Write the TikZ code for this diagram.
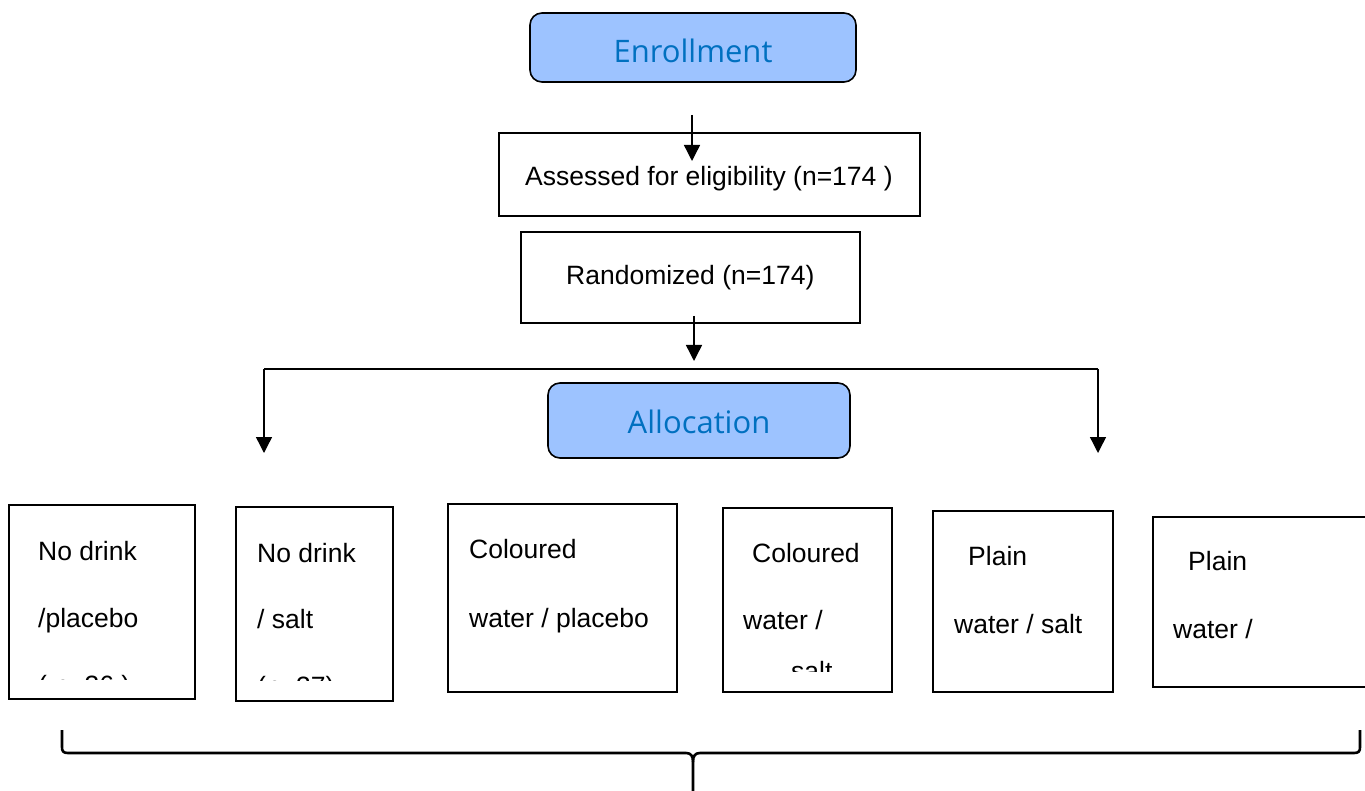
\documentclass[tikz,border=0pt]{standalone}
\usepackage{fontspec}
\setmainfont{Liberation Sans}
\newfontfamily\headfont{Open Sans}
\usetikzlibrary{arrows.meta}
\definecolor{hfill}{HTML}{9DC3FF}
\definecolor{htext}{HTML}{0070C0}
\tikzset{
  box/.style={draw=black, line width=1.6pt, inner sep=0pt, fill=white},
  headbox/.style={draw=black, line width=1.6pt, fill=hfill, rounded corners=12pt, inner sep=0pt},
  headtxt/.style={font=\headfont\fontsize{31}{36}\selectfont, text=htext, inner sep=0pt, anchor=base},
  txt/.style={font=\fontsize{26.5}{30}\selectfont, inner sep=0pt, anchor=base west},
  arr/.style={line width=1.4pt, -{Triangle[width=16pt,length=16pt]}},
  ln/.style={line width=1.4pt},
}
\begin{document}
\begin{tikzpicture}[x=1pt,y=-1pt]
\useasboundingbox (0,0) rectangle (1365,791);

% Enrollment
\node[headbox, minimum width=326pt, minimum height=69pt] (enr) at (693,47.5) {};
\node[headtxt] (enrt) at (693,63) {Enrollment};

% Assessed
\node[box, minimum width=421pt, minimum height=83pt] (ass) at (709.5,174.5) {};
\node[txt] (asst) at (525,186) {Assessed for eligibility (n=174 )};

% Randomized
\node[box, minimum width=339pt, minimum height=91pt] (ran) at (690.5,277.5) {};
\node[txt] (rant) at (566,285) {Randomized (n=174)};

% arrows top
\coordinate (a1s) at (692,115);
\coordinate (a1e) at (692,161);
\draw[arr] (a1s) -- (a1e);
\coordinate (a2s) at (694,316);
\coordinate (a2e) at (694,361);
\draw[arr] (a2s) -- (a2e);

% split line
\coordinate (sl) at (264,369);
\coordinate (sr) at (1098,369);
\coordinate (sle) at (264,453);
\coordinate (sre) at (1098,453);
\draw[ln] (sl) -- (sr);
\draw[arr] (sl) -- (sle);
\draw[arr] (sr) -- (sre);
\coordinate (tl) at (608,369);
\coordinate (tr) at (752,369);
\draw[line width=2.4pt] (tl) -- (tr);

% Allocation
\node[headbox, minimum width=302pt, minimum height=75pt] (all) at (699,420.5) {};
\node[headtxt] (allt) at (699,433) {Allocation};

% Bottom boxes
\node[box, minimum width=186pt, minimum height=194pt] (b1) at (102,602) {};
\node[box, minimum width=157pt, minimum height=194pt] (b2) at (314.5,604) {};
\node[box, minimum width=229pt, minimum height=188pt] (b3) at (562.5,598) {};
\node[box, minimum width=169pt, minimum height=184pt] (b4) at (807.5,600) {};
\node[box, minimum width=180pt, minimum height=181pt] (b5) at (1023,601.5) {};
\node[box, minimum width=216pt, minimum height=170pt] (b6) at (1261,602) {};

\begin{scope}
\clip (10,506) rectangle (194,679);
\node[txt] (b1a) at (38,560) {No drink};
\node[txt] (b1b) at (38,627) {/placebo};
\node[txt] (b1c) at (38,694) {( n=36 )};
\end{scope}
\begin{scope}
\clip (237,508) rectangle (392,680);
\node[txt] (b2a) at (257,562) {No drink};
\node[txt] (b2b) at (257,628) {/ salt};
\node[txt] (b2c) at (257,695) {(n=37)};
\end{scope}
\node[txt] (b3a) at (469,558) {Coloured};
\node[txt] (b3b) at (469,627) {water / placebo};
\node[txt] (b4a) at (752,562) {Coloured};
\node[txt] (b4b) at (743,629) {water /};
\begin{scope}
\clip (724,509) rectangle (890,671);
\node[txt] (b4c) at (791,680) {salt};
\end{scope}
\node[txt] (b5a) at (968,565) {Plain};
\node[txt] (b5b) at (954,633) {water / salt};
\node[txt] (b6a) at (1188,570) {Plain};
\node[txt] (b6b) at (1173,638) {water /};

% Brace
\coordinate (brl) at (62,730);
\coordinate (brr) at (1360,730);
\coordinate (brm) at (693,791);
\draw[line width=2.6pt] (brl) -- (62,747) .. controls (62,751) and (63,753) .. (68,753) -- (686,753) .. controls (691,753) and (693,756) .. (693,762) -- (brm);
\draw[line width=2.6pt] (693,762) .. controls (693,756) and (695,753) .. (700,753) -- (1354,753) .. controls (1359,753) and (1360,751) .. (1360,747) -- (brr);
\end{tikzpicture}
\end{document}
